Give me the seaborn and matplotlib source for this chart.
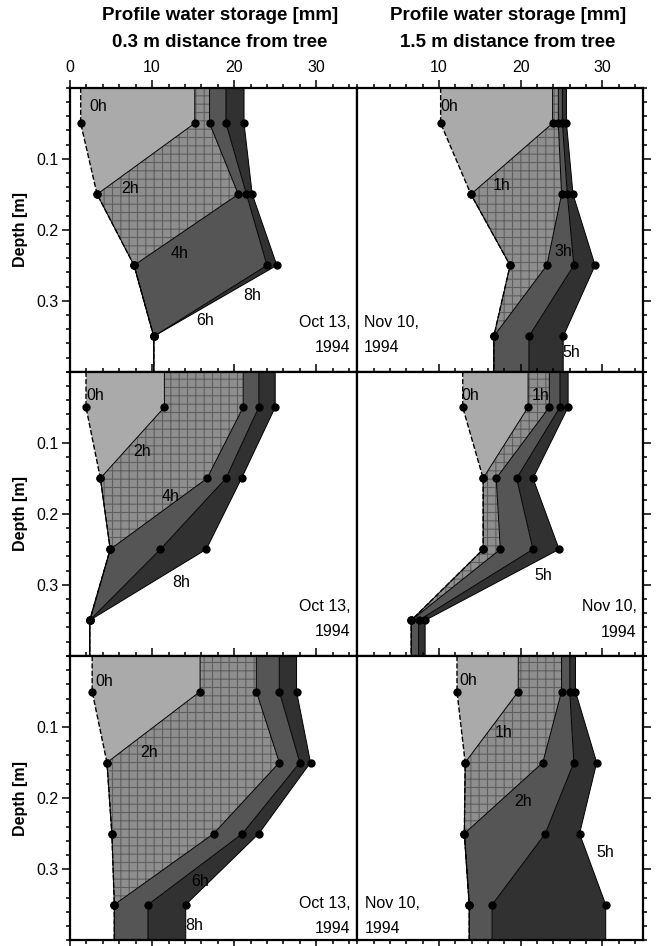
import matplotlib
matplotlib.use("Agg")
import matplotlib.pyplot as plt
import seaborn as sns
import pandas as pd
from matplotlib.ticker import MultipleLocator, FixedLocator

# ---------------- data ----------------
DEPTHS = [0.05, 0.15, 0.25, 0.35]          # measurement depths [m]
X_TICKS_LEFT = [0, 10, 20, 30]
X_TICKS_RIGHT = [10, 20, 30]
Y_TICKS = [0.1, 0.2, 0.3]

TITLE_LEFT = ["Profile water storage [mm]", "0.3 m distance from tree"]
TITLE_RIGHT = ["Profile water storage [mm]", "1.5 m distance from tree"]
DATE_LEFT = ["Oct 13,", "1994"]
DATE_RIGHT = ["Nov 10,", "1994"]

# Row 1, 0.3 m
R1L_HOURS = ["0h", "2h", "4h", "6h", "8h"]
R1L = [[1.3, 3.3, 7.8, 10.2],
       [15.2, 3.3, 7.8, 10.2],
       [17.0, 20.5, 7.8, 10.2],
       [19.0, 21.5, 24.0, 10.2],
       [21.2, 22.2, 25.2, 10.2]]
R1L_LAB = ["0h", "2h", "4h", "8h", "6h"]
R1L_LAB_X = [3.45, 7.3, 13.4, 22.2, 16.5]
R1L_LAB_D = [0.027, 0.142, 0.234, 0.292, 0.327]

# Row 1, 1.5 m
R1R_HOURS = ["0h", "1h", "3h", "4h", "5h"]
R1R = [[10.2, 13.9, 18.7, 16.7],
       [23.9, 13.9, 18.7, 16.7],
       [24.6, 25.0, 23.2, 16.7],
       [25.1, 25.7, 26.5, 21.0],
       [25.6, 26.4, 29.1, 25.2]]
R1R_LAB = ["0h", "1h", "3h", "5h"]
R1R_LAB_X = [11.3, 17.65, 25.2, 26.2]
R1R_LAB_D = [0.027, 0.137, 0.231, 0.372]

# Row 2, 0.3 m
R2L_HOURS = ["0h", "2h", "4h", "6h", "8h"]
R2L = [[1.95, 3.7, 4.9, 2.4],
       [11.5, 3.7, 4.9, 2.4],
       [21.1, 16.7, 4.9, 2.4],
       [23.0, 19.0, 11.0, 2.4],
       [25.0, 20.9, 16.6, 2.4]]
R2L_LAB = ["0h", "2h", "4h", "8h"]
R2L_LAB_X = [3.05, 8.8, 12.2, 13.6]
R2L_LAB_D = [0.034, 0.113, 0.176, 0.296]

# Row 2, 1.5 m
R2R_HOURS = ["0h", "1h", "3h", "4h", "5h"]
R2R = [[12.9, 15.4, 15.4, 6.6],
       [20.9, 15.4, 15.4, 6.6],
       [23.5, 17.0, 17.5, 6.6],
       [24.8, 19.5, 21.5, 7.5],
       [25.8, 21.5, 24.7, 8.3]]
R2R_LAB = ["0h", "1h", "5h"]
R2R_LAB_X = [13.8, 22.4, 22.8]
R2R_LAB_D = [0.034, 0.034, 0.287]

# Row 3, 0.3 m
R3L_HOURS = ["0h", "2h", "4h", "6h", "8h"]
R3L = [[2.7, 4.5, 5.1, 5.4],
       [15.85, 4.5, 5.1, 5.4],
       [22.7, 25.5, 17.5, 5.4],
       [25.5, 28.0, 21.0, 9.5],
       [27.6, 29.3, 23.0, 14.1]]
R3L_LAB = ["0h", "2h", "6h", "8h"]
R3L_LAB_X = [4.15, 9.6, 15.85, 15.1]
R3L_LAB_D = [0.036, 0.136, 0.318, 0.379]

# Row 3, 1.5 m
R3R_HOURS = ["0h", "1h", "2h", "3h", "5h"]
R3R = [[12.2, 13.2, 13.1, 13.7],
       [19.7, 13.2, 13.1, 13.7],
       [25.0, 22.7, 13.1, 13.7],
       [26.0, 26.5, 23.0, 16.5],
       [26.7, 29.3, 27.2, 30.4]]
R3R_LAB = ["0h", "1h", "2h", "5h"]
R3R_LAB_X = [13.6, 17.85, 20.3, 30.3]
R3R_LAB_D = [0.035, 0.108, 0.205, 0.277]

# ---------------- style ----------------
sns.set_theme(style="ticks")
plt.rcParams["font.family"] = ["Liberation Sans", "DejaVu Sans"]
for k in ["text.color", "axes.labelcolor", "xtick.color", "ytick.color", "axes.edgecolor"]:
    plt.rcParams[k] = "black"
plt.rcParams["hatch.linewidth"] = 0.8
FS = 11.5
SHADES = ["#aaaaaa", "#8e8e8e", "#555555", "#313131"]
HATCH_COL = [None, "#5e5e5e", None, None]
HATCHES = ["", "++", "", ""]

W, H = 660, 946
fig = plt.figure(figsize=(W / 100, H / 100), dpi=100)

lefts = [70.0, 357.3]
widths = [287.3, 286.0]
tops = [87.7, 371.7, 656.0]
ah = 284.2

panels = [
    [(R1L_HOURS, R1L, R1L_LAB, R1L_LAB_X, R1L_LAB_D),
     (R1R_HOURS, R1R, R1R_LAB, R1R_LAB_X, R1R_LAB_D)],
    [(R2L_HOURS, R2L, R2L_LAB, R2L_LAB_X, R2L_LAB_D),
     (R2R_HOURS, R2R, R2R_LAB, R2R_LAB_X, R2R_LAB_D)],
    [(R3L_HOURS, R3L, R3L_LAB, R3L_LAB_X, R3L_LAB_D),
     (R3R_HOURS, R3R, R3R_LAB, R3R_LAB_X, R3R_LAB_D)],
]

# placement of the date texts per panel: (x, depth1, depth2, ha)
date_place = [
    [(34.2, 0.330, 0.365, "right"), (0.8, 0.330, 0.365, "left")],
    [(34.2, 0.331, 0.366, "right"), (34.2, 0.331, 0.367, "right")],
    [(34.2, 0.348, 0.383, "right"), (0.9, 0.348, 0.383, "left")],
]

d_ext = [0.0] + DEPTHS + [0.4]

for r in range(3):
    for c in range(2):
        hours, profs, labs, labx, labd = panels[r][c]
        ax = fig.add_axes([lefts[c] / W, 1 - (tops[r] + ah) / H, widths[c] / W, ah / H])
        ax.set_facecolor("white")
        exts = [[p[0]] + list(p) + [p[-1]] for p in profs]
        # filled bands between successive profiles
        for i in range(1, len(exts)):
            ax.fill_betweenx(d_ext, exts[i - 1], exts[i], facecolor=SHADES[i - 1],
                             edgecolor=HATCH_COL[i - 1] or "none",
                             hatch=HATCHES[i - 1], linewidth=0, zorder=1 + i * 0.01)
        # profile lines
        for i, ext in enumerate(exts):
            df = pd.DataFrame({"x": ext, "d": d_ext})
            sns.lineplot(data=df, x="x", y="d", sort=False, estimator=None, ax=ax,
                         color="black", linewidth=1.0 if i == 0 else 0.7,
                         linestyle="--" if i == 0 else "-", zorder=3)
        # measurement points
        pts = pd.DataFrame({"x": [v for p in profs for v in p],
                            "d": DEPTHS * len(profs)})
        sns.scatterplot(data=pts, x="x", y="d", ax=ax, color="black", s=36,
                        linewidth=0, zorder=4)
        for t, xx, dd in zip(labs, labx, labd):
            ax.text(xx, dd, t, fontsize=FS, ha="center", va="center", zorder=5)
        dx, d1, d2, ha = date_place[r][c]
        dl = DATE_LEFT if c == 0 else DATE_RIGHT
        ax.text(dx, d1, dl[0], fontsize=FS, ha=ha, va="center", zorder=5)
        ax.text(dx, d2, dl[1], fontsize=FS, ha=ha, va="center", zorder=5)

        ax.set_xlim(0, 35)
        ax.set_ylim(0.4, 0.0)
        ax.set_xlabel("")
        ax.set_ylabel("")
        ax.xaxis.set_major_locator(FixedLocator(X_TICKS_LEFT if c == 0 else X_TICKS_RIGHT))
        ax.xaxis.set_minor_locator(MultipleLocator(2))
        ax.yaxis.set_major_locator(FixedLocator(Y_TICKS))
        ax.yaxis.set_minor_locator(MultipleLocator(0.02))
        ax.tick_params(axis="x", which="both", direction="out", top=True,
                       bottom=(r == 2), labeltop=(r == 0), labelbottom=False,
                       width=1.1, color="black", labelsize=FS, pad=3)
        ax.tick_params(axis="x", which="major", length=6)
        ax.tick_params(axis="x", which="minor", length=3)
        ax.tick_params(axis="y", which="both", direction="out",
                       left=(c == 0), right=(c == 1), labelleft=(c == 0),
                       labelright=False, width=1.1, color="black", labelsize=FS, pad=2)
        ax.tick_params(axis="y", which="major", length=6)
        ax.tick_params(axis="y", which="minor", length=3)
        for s in ax.spines.values():
            s.set_linewidth(1.6)
            s.set_color("black")
            s.set_zorder(6)
        if c == 0:
            ax.set_ylabel("Depth [m]", fontsize=11.5, fontweight="bold", labelpad=6)

# column titles
for cx, lines in [(220, TITLE_LEFT), (508, TITLE_RIGHT)]:
    fig.text(cx / W, 1 - 15 / H, lines[0], fontsize=13.5, fontweight="bold",
             ha="center", va="center")
    fig.text(cx / W, 1 - 42 / H, lines[1], fontsize=13.5, fontweight="bold",
             ha="center", va="center")

fig.savefig("out.png", dpi=100)
